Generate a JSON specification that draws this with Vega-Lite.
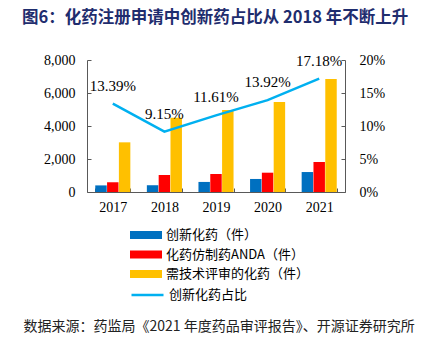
{
  "$schema": "https://vega.github.io/schema/vega-lite/v6.json",
  "width": 258,
  "height": 132,
  "autosize": {"type": "none"},
  "padding": {"left": 87, "top": 60, "right": 88, "bottom": 152},
  "background": "white",
  "title": {
    "text": "图6：化药注册申请中创新药占比从 2018 年不断上升",
    "anchor": "start",
    "frame": "group",
    "dx": -65,
    "offset": 27,
    "font": "Noto Sans CJK SC",
    "fontSize": 16.5,
    "fontWeight": "bold",
    "color": "#1F2D6E"
  },
  "config": {
    "view": {"stroke": null},
    "axis": {
      "domainColor": "#595959",
      "tickColor": "#595959",
      "labelFont": "Liberation Serif",
      "labelFontSize": 14,
      "labelColor": "#000000",
      "grid": false
    }
  },
  "datasets": {
    "bars": [
      {"year": "2017", "type": "创新化药（件）", "count": 400},
      {"year": "2017", "type": "化药仿制药ANDA（件）", "count": 590},
      {"year": "2017", "type": "需技术评审的化药（件）", "count": 3010},
      {"year": "2018", "type": "创新化药（件）", "count": 410},
      {"year": "2018", "type": "化药仿制药ANDA（件）", "count": 1030},
      {"year": "2018", "type": "需技术评审的化药（件）", "count": 4500},
      {"year": "2019", "type": "创新化药（件）", "count": 610},
      {"year": "2019", "type": "化药仿制药ANDA（件）", "count": 1090},
      {"year": "2019", "type": "需技术评审的化药（件）", "count": 4970},
      {"year": "2020", "type": "创新化药（件）", "count": 790},
      {"year": "2020", "type": "化药仿制药ANDA（件）", "count": 1170},
      {"year": "2020", "type": "需技术评审的化药（件）", "count": 5450},
      {"year": "2021", "type": "创新化药（件）", "count": 1210},
      {"year": "2021", "type": "化药仿制药ANDA（件）", "count": 1820},
      {"year": "2021", "type": "需技术评审的化药（件）", "count": 6850}
    ],
    "ratio": [
      {"year": "2017", "pct": 0.1339},
      {"year": "2018", "pct": 0.0915},
      {"year": "2019", "pct": 0.1161},
      {"year": "2020", "pct": 0.1392},
      {"year": "2021", "pct": 0.1718}
    ]
  },
  "layer": [
    {
      "data": {"name": "bars"},
      "mark": {"type": "bar"},
      "encoding": {
        "x": {
          "field": "year",
          "type": "nominal",
          "scale": {"paddingInner": 0.32, "paddingOuter": 0.16},
          "axis": {
            "labelAngle": 0,
            "tickBand": "extent",
            "tickSize": -4,
            "labelPadding": 12,
            "title": "数据来源：药监局《2021 年度药品审评报告》、开源证券研究所",
            "titleX": -64,
            "titleY": 134,
            "titleAlign": "left",
            "titleBaseline": "middle",
            "titleFont": "Noto Sans CJK SC",
            "titleFontSize": 14,
            "titleFontWeight": "normal",
            "titleColor": "#222222"
          }
        },
        "xOffset": {
          "field": "type",
          "type": "nominal",
          "sort": ["创新化药（件）", "化药仿制药ANDA（件）", "需技术评审的化药（件）"],
          "scale": {"paddingInner": 0.03}
        },
        "y": {
          "field": "count",
          "type": "quantitative",
          "scale": {"domain": [0, 8000]},
          "axis": {
            "title": null,
            "values": [0, 2000, 4000, 6000, 8000],
            "format": ",.0f",
            "tickSize": -4,
            "labelPadding": 16
          }
        },
        "fill": {
          "field": "type",
          "type": "nominal",
          "sort": ["创新化药（件）", "化药仿制药ANDA（件）", "需技术评审的化药（件）"],
          "scale": {
            "domain": ["创新化药（件）", "化药仿制药ANDA（件）", "需技术评审的化药（件）"],
            "range": ["#0070C0", "#FF0000", "#FFC000"]
          },
          "legend": {
            "title": null,
            "orient": "none",
            "legendX": 43,
            "legendY": 167,
            "symbolType": "M-1,-0.25H1V0.25H-1Z",
            "symbolSize": 1024,
            "symbolStrokeWidth": 0,
            "clipHeight": 16,
            "rowPadding": 3.5,
            "labelFont": "Noto Sans CJK SC",
            "labelFontSize": 13,
            "labelColor": "#000000",
            "labelOffset": 4,
            "padding": 0
          }
        }
      }
    },
    {
      "data": {"name": "ratio"},
      "mark": {"type": "line", "strokeWidth": 2.5},
      "encoding": {
        "x": {"field": "year", "type": "nominal"},
        "y": {
          "field": "pct",
          "type": "quantitative",
          "scale": {"domain": [0, 0.2]},
          "axis": {
            "orient": "right",
            "title": null,
            "values": [0, 0.05, 0.1, 0.15, 0.2],
            "format": ".0%",
            "tickSize": -4,
            "labelPadding": 18
          }
        },
        "stroke": {
          "datum": "创新化药占比",
          "type": "nominal",
          "scale": {"range": ["#00B0F0"]},
          "legend": {
            "title": null,
            "orient": "none",
            "legendX": 43,
            "legendY": 227,
            "symbolType": "stroke",
            "symbolSize": 1024,
            "symbolStrokeWidth": 2.5,
            "clipHeight": 16,
            "labelFont": "Noto Sans CJK SC",
            "labelFontSize": 13,
            "labelColor": "#000000",
            "labelOffset": 4,
            "padding": 0
          }
        }
      }
    },
    {
      "data": {"name": "ratio"},
      "mark": {"type": "text", "dy": -18, "font": "Liberation Serif", "fontSize": 15, "color": "#000000"},
      "encoding": {
        "x": {"field": "year", "type": "nominal"},
        "y": {"field": "pct", "type": "quantitative", "scale": {"domain": [0, 0.2]}, "axis": null},
        "text": {"field": "pct", "type": "quantitative", "format": ".2%"}
      }
    }
  ],
  "resolve": {"scale": {"y": "independent"}}
}
